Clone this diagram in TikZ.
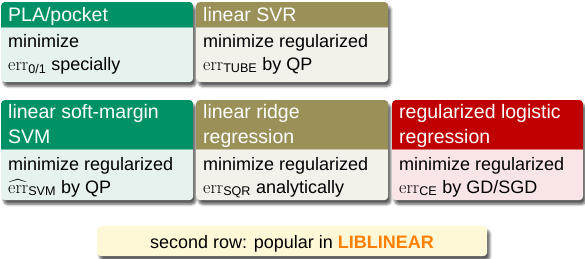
\documentclass[tikz,border=0pt]{standalone}
\usepackage{fontspec}
\setsansfont{Liberation Sans}
\usepackage{amsmath}
\usetikzlibrary{shadows.blur}
\definecolor{gtitle}{RGB}{0,146,102}
\definecolor{gbody}{RGB}{229,242,238}
\definecolor{otitle}{RGB}{154,145,89}
\definecolor{obody}{RGB}{242,241,234}
\definecolor{rtitle}{RGB}{192,0,0}
\definecolor{rbody}{RGB}{249,229,229}
\definecolor{ybody}{RGB}{255,248,214}
\definecolor{liborange}{RGB}{255,128,0}
\newcommand\mkblock[8]{%
  \node[blockbody, fill=#8, minimum width={#4-#2}, minimum height={#5-#3}, anchor=north west] (#1) at (#2,#3) {};
  \begin{scope}
    \clip[rounded corners=4pt] (#1.north west) rectangle (#1.south east);
    \fill[#7] (#1.north west) rectangle (#4,#6);
  \end{scope}
  \draw[#7!55!white, line width=1pt] (#2,#6) -- (#4,#6);
}
\begin{document}
\begin{tikzpicture}[x=1pt,y=-1pt,
  blockbody/.style={draw=none, inner sep=0pt, rounded corners=4pt,
    blur shadow={shadow xshift=2.5pt, shadow yshift=-4pt, shadow opacity=65, shadow blur steps=5, shadow blur radius=2.5pt}},
  ttl/.style={anchor=base west, inner sep=0pt, text=white, font=\sffamily\fontsize{19.5}{24}\selectfont},
  txt/.style={anchor=base west, inner sep=0pt, text=black, font=\sffamily\fontsize{18}{23}\selectfont},
]
\useasboundingbox (0,0) rectangle (585,258);

\mkblock{blk1}{1}{2}{193}{82}{27}{gtitle}{gbody}
\mkblock{blk2}{196}{2}{388}{82}{27}{otitle}{obody}
\mkblock{blk3}{1}{100}{193}{200}{149}{gtitle}{gbody}
\mkblock{blk4}{196}{100}{388}{200}{149}{otitle}{obody}
\mkblock{blk5}{392}{100}{583}{200}{149}{rtitle}{rbody}

\node[ttl] (t1) at (8,21) {PLA/pocket};
\node[txt] (b1a) at (8,47) {minimize};
\node[txt] (b1b) at (8,70) {$\mathrm{err}_{\text{0/1}}$ specially};

\node[ttl] (t2) at (203,21) {linear SVR};
\node[txt] (b2a) at (203,47) {minimize regularized};
\node[txt] (b2b) at (203,70) {$\mathrm{err}_{\text{TUBE}}$ by QP};

\node[ttl] (t3a) at (8,118) {linear soft-margin};
\node[ttl] (t3b) at (8,143) {SVM};
\node[txt] (b3a) at (8,170) {minimize regularized};
\node[txt] (b3b) at (8,193) {$\widehat{\mathrm{err}}_{\text{SVM}}$ by QP};

\node[ttl] (t4a) at (203,118) {linear ridge};
\node[ttl] (t4b) at (203,143) {regression};
\node[txt] (b4a) at (203,170) {minimize regularized};
\node[txt] (b4b) at (203,193) {$\mathrm{err}_{\text{SQR}}$ analytically};

\node[ttl] (t5a) at (399,118) {regularized logistic};
\node[ttl] (t5b) at (399,143) {regression};
\node[txt] (b5a) at (399,170) {minimize regularized};
\node[txt] (b5b) at (399,193) {$\mathrm{err}_{\text{CE}}$ by GD/SGD};

\node[blockbody, fill=ybody, minimum width=390, minimum height=30, anchor=north west] (note) at (97,226) {};
\node[txt, anchor=base] (notetext) at (292,248) {second row: popular in \textcolor{liborange}{\bfseries LIBLINEAR}};
\end{tikzpicture}
\end{document}
